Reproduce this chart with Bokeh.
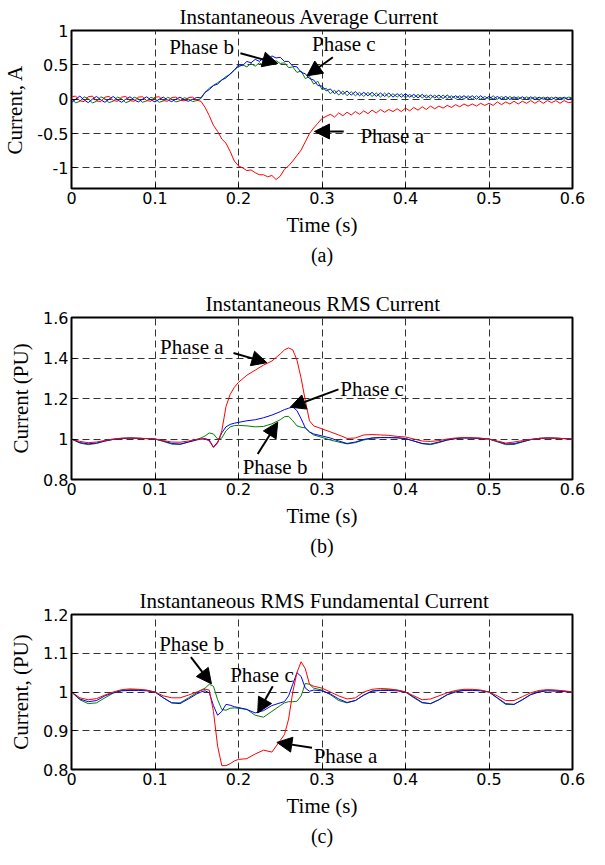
from bokeh.plotting import figure
from bokeh.layouts import column
from bokeh.models import Range1d, FixedTicker, Label, Arrow, NormalHead, Title
from bokeh.embed import file_html
from bokeh.resources import INLINE

# ---------------- data: panel (a) instantaneous average current ----------------
T_A = [round(0.005 * i, 3) for i in range(121)]
A_RED = [0.035, 0.045, -0.025, -0.035, 0.035, 0.045, -0.025, -0.035,
         0.03, 0.04, -0.02, -0.03, 0.03, 0.04, -0.02, -0.03,
         0.03, 0.035, -0.02, -0.03, 0.03, 0.035, -0.02, -0.03,
         0.025, 0.03, -0.015, -0.025, 0.025, 0.03, -0.015,
         -0.03, -0.12, -0.24, -0.38, -0.47, -0.58, -0.64, -0.76, -0.9, -0.97,
         -1.0, -1.04, -1.03, -1.07, -1.1, -1.1, -1.13, -1.11, -1.17, -1.12,
         -1.02, -0.97, -0.9, -0.82, -0.74, -0.62, -0.5, -0.42, -0.35, -0.28,
         -0.25, -0.22, -0.26, -0.2, -0.24, -0.19, -0.23, -0.18, -0.22, -0.17,
         -0.21, -0.16, -0.2, -0.15, -0.19, -0.15, -0.18, -0.14, -0.18, -0.13,
         -0.17, -0.12, -0.16, -0.11, -0.15, -0.1, -0.14, -0.1, -0.13, -0.09,
         -0.12, -0.08, -0.11, -0.07, -0.1, -0.07, -0.1, -0.06, -0.09, -0.06,
         -0.09, -0.04, -0.08, -0.04, -0.07, -0.03, -0.07, -0.03, -0.06, -0.02,
         -0.06, -0.02, -0.06, -0.02, -0.05, -0.02, -0.06, -0.02, -0.05, -0.04]
A_BLUE = [-0.05, 0.0, 0.045, -0.01, -0.05, 0.0, 0.04, -0.01, -0.045, 0.0,
          0.04, -0.01, -0.045, 0.0, 0.035, -0.01, -0.04, 0.0, 0.035, -0.01,
          -0.04, 0.0, 0.03, -0.01, -0.035, 0.0, 0.03, -0.01, -0.03, 0.0, 0.025,
          0.02, 0.1, 0.14, 0.2, 0.22, 0.28, 0.31, 0.37, 0.42, 0.5,
          0.49, 0.55, 0.53, 0.58, 0.55, 0.6, 0.57, 0.63, 0.6, 0.61,
          0.55, 0.55, 0.48, 0.47, 0.39, 0.37, 0.3, 0.28, 0.2, 0.19,
          0.12, 0.15, 0.08, 0.13, 0.07, 0.12, 0.06, 0.11, 0.05, 0.1,
          0.05, 0.1, 0.04, 0.09, 0.04, 0.09, 0.03, 0.08, 0.03, 0.08,
          0.03, 0.07, 0.02, 0.07, 0.02, 0.06, 0.02, 0.06, 0.01, 0.06,
          0.01, 0.05, 0.01, 0.05, 0.01, 0.05, 0.0, 0.05, 0.0, 0.04,
          0.0, 0.04, 0.0, 0.04, -0.005, 0.035, 0.0, 0.035, -0.005, 0.035,
          -0.005, 0.03, 0.0, 0.03, -0.005, 0.03, 0.0, 0.03, -0.005, 0.02]
A_GREEN = [0.01, -0.055, -0.03, 0.035, 0.01, -0.055, -0.03, 0.035, 0.008, -0.05,
           -0.028, 0.03, 0.008, -0.05, -0.028, 0.03, 0.006, -0.045, -0.025, 0.027,
           0.006, -0.045, -0.025, 0.027, 0.005, -0.04, -0.022, 0.022, 0.004, -0.035, -0.02,
           0.01, 0.1, 0.16, 0.2, 0.24, 0.28, 0.33, 0.36, 0.43, 0.47,
           0.5, 0.47, 0.52, 0.48, 0.53, 0.49, 0.54, 0.52, 0.56, 0.52,
           0.53, 0.46, 0.47, 0.39, 0.41, 0.3, 0.33, 0.22, 0.26, 0.14,
           0.16, 0.08, 0.13, 0.06, 0.12, 0.05, 0.11, 0.05, 0.1, 0.04,
           0.1, 0.04, 0.09, 0.03, 0.09, 0.03, 0.08, 0.03, 0.08, 0.02,
           0.07, 0.02, 0.07, 0.02, 0.06, 0.01, 0.06, 0.01, 0.06, 0.01,
           0.05, 0.01, 0.05, 0.0, 0.05, 0.0, 0.05, 0.0, 0.04, 0.0,
           0.05, 0.0, 0.04, -0.005, 0.04, 0.0, 0.035, -0.005, 0.035, 0.0,
           0.035, -0.005, 0.03, 0.0, 0.03, -0.005, 0.03, 0.0, 0.03, 0.02]

# ---------------- shared time base for panels (b) and (c) ----------------
T_BC = [0.0, 0.01, 0.02, 0.03, 0.04, 0.05, 0.06, 0.07, 0.08, 0.09, 0.1, 0.11, 0.12, 0.13, 0.14, 0.15,
        0.155, 0.16, 0.165, 0.17, 0.175, 0.18, 0.185, 0.19, 0.195, 0.2,
        0.21, 0.22, 0.23, 0.24, 0.25,
        0.255, 0.26, 0.265, 0.27, 0.275, 0.28, 0.285, 0.29,
        0.3, 0.31, 0.32, 0.33, 0.34, 0.35, 0.36, 0.37, 0.38, 0.39, 0.4,
        0.41, 0.42, 0.43, 0.44, 0.45, 0.46, 0.47, 0.48, 0.49, 0.5,
        0.51, 0.52, 0.53, 0.54, 0.55, 0.56, 0.57, 0.58, 0.59, 0.6]

# panel (b) instantaneous RMS current
B_RED = [1.0, 0.988, 0.982, 0.985, 0.993, 1.0, 1.004, 1.005, 1.004, 1.002, 1.0, 0.992, 0.985, 0.984, 0.99, 0.998,
         1.0, 1.0, 0.99, 0.958, 0.98, 1.04, 1.16, 1.22, 1.255, 1.28,
         1.315, 1.34, 1.365, 1.385, 1.42,
         1.44, 1.45, 1.44, 1.39, 1.3, 1.19, 1.09, 1.065,
         1.05, 1.035, 1.02, 1.003, 1.005, 1.02, 1.022, 1.02, 1.018, 1.013, 1.01,
         1.0, 0.99, 0.988, 0.992, 1.0, 1.005, 1.007, 1.006, 1.004, 1.0,
         0.99, 0.98, 0.985, 0.992, 0.998, 1.003, 1.005, 1.004, 1.002, 1.0]
B_BLUE = [1.0, 0.982, 0.976, 0.98, 0.99, 0.998, 1.003, 1.004, 1.003, 1.002, 1.0, 0.99, 0.978, 0.975, 0.985, 0.995,
          1.0, 1.002, 0.995, 0.96, 0.985, 1.03, 1.06, 1.072, 1.078, 1.082,
          1.09, 1.095, 1.105, 1.118, 1.135,
          1.145, 1.152, 1.158, 1.14, 1.1, 1.055, 1.035, 1.025,
          1.015, 1.005, 0.99, 0.978, 0.985, 0.998, 1.005, 1.007, 1.007, 1.006, 1.002,
          0.99, 0.978, 0.975, 0.985, 0.995, 1.002, 1.005, 1.004, 1.003, 1.0,
          0.988, 0.976, 0.977, 0.987, 0.997, 1.003, 1.005, 1.004, 1.002, 1.0]
B_GREEN = [1.0, 0.98, 0.972, 0.978, 0.99, 0.998, 1.003, 1.005, 1.004, 1.002, 1.0, 0.988, 0.975, 0.973, 0.985, 0.998,
           1.005, 1.015, 1.03, 1.025, 1.0, 1.005, 1.04, 1.06, 1.066, 1.067,
           1.065, 1.06, 1.062, 1.075, 1.095,
           1.11, 1.112, 1.09, 1.065, 1.058, 1.055, 1.035, 1.02,
           1.008, 0.995, 0.985, 0.976, 0.982, 0.995, 1.004, 1.007, 1.007, 1.006, 1.002,
           0.99, 0.977, 0.972, 0.982, 0.995, 1.002, 1.006, 1.005, 1.003, 1.0,
           0.986, 0.972, 0.973, 0.985, 0.997, 1.003, 1.005, 1.004, 1.002, 1.0]

# panel (c) instantaneous RMS fundamental current
C_RED = [1.0, 0.985, 0.98, 0.983, 0.992, 1.0, 1.006, 1.008, 1.007, 1.005, 1.0, 0.99, 0.985, 0.985, 0.992, 1.0,
         1.004, 1.007, 1.005, 0.95, 0.86, 0.81, 0.81, 0.815, 0.822, 0.826,
         0.828, 0.84, 0.85, 0.845, 0.875,
         0.89, 0.93, 1.0, 1.05, 1.078, 1.06, 1.02, 1.015,
         1.01, 1.0, 0.99, 0.982, 0.985, 1.0, 1.007, 1.009, 1.008, 1.005, 1.0,
         0.99, 0.98, 0.982, 0.99, 0.998, 1.004, 1.007, 1.007, 1.005, 1.0,
         0.99, 0.978, 0.978, 0.988, 0.998, 1.004, 1.006, 1.005, 1.003, 1.0]
C_BLUE = [1.0, 0.982, 0.975, 0.978, 0.99, 0.998, 1.003, 1.004, 1.004, 1.003, 1.0, 0.985, 0.972, 0.97, 0.982, 0.995,
          1.0, 1.003, 0.998, 0.965, 0.94, 0.95, 0.968, 0.966, 0.962, 0.96,
          0.955, 0.946, 0.952, 0.965, 0.972,
          0.975, 0.99, 1.02, 1.05, 1.04, 1.01, 1.002, 1.005,
          1.003, 0.995, 0.982, 0.973, 0.978, 0.992, 1.002, 1.004, 1.004, 1.003, 1.0,
          0.987, 0.973, 0.97, 0.98, 0.993, 1.0, 1.004, 1.004, 1.003, 1.0,
          0.985, 0.97, 0.968, 0.98, 0.993, 1.0, 1.003, 1.002, 1.001, 1.0]
C_GREEN = [1.0, 0.98, 0.97, 0.972, 0.985, 0.997, 1.004, 1.006, 1.006, 1.004, 1.0, 0.985, 0.972, 0.972, 0.985, 0.998,
           1.005, 1.01, 1.02, 1.015, 0.98, 0.955, 0.953, 0.958, 0.959, 0.958,
           0.955, 0.94, 0.935, 0.95, 0.965,
           0.972, 0.975, 0.975, 0.976, 0.99, 1.022, 1.02, 1.01,
           1.005, 0.993, 0.978, 0.972, 0.978, 0.992, 1.003, 1.005, 1.006, 1.005, 1.0,
           0.985, 0.972, 0.97, 0.98, 0.993, 1.002, 1.005, 1.005, 1.004, 1.0,
           0.984, 0.968, 0.968, 0.98, 0.994, 1.002, 1.005, 1.004, 1.002, 1.0]

# ---------------- ticks ----------------
X_TICKS = [0, 0.1, 0.2, 0.3, 0.4, 0.5, 0.6]
X_LABELS = ["0", "0.1", "0.2", "0.3", "0.4", "0.5", "0.6"]
YA_TICKS = [-1, -0.5, 0, 0.5, 1]
YA_LABELS = ["-1", "-0.5", "0", "0.5", "1"]
YB_TICKS = [0.8, 1.0, 1.2, 1.4, 1.6]
YB_LABELS = ["0.8", "1", "1.2", "1.4", "1.6"]
YC_TICKS = [0.8, 0.9, 1.0, 1.1, 1.2]
YC_LABELS = ["0.8", "0.9", "1", "1.1", "1.2"]

SERIF = "Liberation Serif"
SANS = "DejaVu Sans"
RED, BLUE, GREEN = "#ff0000", "#0000ff", "#008000"
FIG_W = 589


def make_fig(bl, br, bt, fh, bb, yr, yticks, ylabels, ylab, title, title_off, caption):
    p = figure(width=FIG_W, height=bt + fh + bb, x_range=Range1d(0, 0.6), y_range=Range1d(*yr),
               output_backend="svg", toolbar_location=None,
               min_border_left=bl, min_border_right=br, min_border_top=bt, min_border_bottom=bb)
    p.title.text = title
    p.title.text_font = SERIF
    p.title.text_font_size = "21px"
    p.title.text_font_style = "normal"
    p.title.text_color = "black"
    p.title.align = "left"
    p.title.offset = title_off
    p.title.standoff = 4
    p.outline_line_color = "black"
    p.outline_line_width = 2
    p.background_fill_color = "white"
    p.border_fill_color = "white"
    for ax, ticks, labels in ((p.xaxis[0], X_TICKS, X_LABELS), (p.yaxis[0], yticks, ylabels)):
        ax.ticker = FixedTicker(ticks=ticks)
        ax.major_label_overrides = {t: l for t, l in zip(ticks, labels)}
        ax.major_label_text_font = SANS
        ax.major_label_text_font_size = "16px"
        ax.major_label_text_color = "black"
        ax.axis_line_color = None
        ax.major_tick_in = 5
        ax.major_tick_out = 0
        ax.major_tick_line_color = "black"
        ax.minor_tick_line_color = None
        ax.axis_label_text_font = SERIF
        ax.axis_label_text_font_size = "21px"
        ax.axis_label_text_font_style = "normal"
        ax.axis_label_text_color = "black"
        ax.major_label_standoff = 3
    p.xaxis.axis_label = "Time (s)"
    p.xaxis.axis_label_standoff = 6
    p.yaxis.axis_label = ylab
    p.yaxis.axis_label_standoff = 7
    for g in (p.xgrid[0], p.ygrid[0]):
        g.grid_line_color = "#333333"
        g.grid_line_dash = "7 4"
        g.grid_line_width = 1
    cap = Title(text=caption, align="center", text_font=SERIF, text_font_size="20px",
                text_font_style="normal", text_color="black", standoff=4)
    p.add_layout(cap, "below")
    return p


def note(p, text, tx, ty, xs, ys, xe, ye):
    p.add_layout(Label(x=tx, y=ty, text=text, text_font=SERIF, text_font_size="21px",
                       text_baseline="middle", text_align="left", text_color="black"))
    p.add_layout(Arrow(x_start=xs, y_start=ys, x_end=xe, y_end=ye, line_width=2, line_color="black",
                       end=NormalHead(size=15, fill_color="black", line_color="black")))


# panel (a)
pa = make_fig(61, 12, 25, 163, 87, (-1.3, 1.0), YA_TICKS, YA_LABELS, "Current, A",
              "Instantaneous Average Current", 108, "(a)")
pa.line(T_A, A_GREEN, color=GREEN, line_width=1)
pa.line(T_A, A_BLUE, color=BLUE, line_width=1)
pa.line(T_A, A_RED, color=RED, line_width=1)
note(pa, "Phase b", 0.117, 0.755, 0.2023, 0.67, 0.247, 0.52)
note(pa, "Phase c", 0.288, 0.80, 0.313, 0.61, 0.282, 0.34)
note(pa, "Phase a", 0.346, -0.54, 0.326, -0.47, 0.291, -0.47)

# panel (b)
pb = make_fig(57, 16, 42, 162, 90, (0.8, 1.6), YB_TICKS, YB_LABELS, "Current (PU)",
              "Instantaneous RMS Current", 134, "(b)")
pb.line(T_BC, B_GREEN, color=GREEN, line_width=1)
pb.line(T_BC, B_BLUE, color=BLUE, line_width=1)
pb.line(T_BC, B_RED, color=RED, line_width=1)
note(pb, "Phase a", 0.106, 1.455, 0.194, 1.425, 0.234, 1.377)
note(pb, "Phase c", 0.322, 1.248, 0.3197, 1.245, 0.262, 1.157)
note(pb, "Phase b", 0.205, 0.86, 0.223, 0.926, 0.247, 1.083)

# panel (c)
pc = make_fig(54, 17, 45, 160, 74, (0.8, 1.2), YC_TICKS, YC_LABELS, "Current, (PU)",
              "Instantaneous RMS Fundamental Current", 68, "(c)")
pc.line(T_BC, C_GREEN, color=GREEN, line_width=1)
pc.line(T_BC, C_BLUE, color=BLUE, line_width=1)
pc.line(T_BC, C_RED, color=RED, line_width=1)
note(pc, "Phase b", 0.105, 1.123, 0.143, 1.09, 0.1676, 1.021)
note(pc, "Phase c", 0.19, 1.044, 0.241, 1.015, 0.223, 0.946)
note(pc, "Phase a", 0.29, 0.835, 0.288, 0.856, 0.246, 0.87)

layout = column(pa, pb, pc, spacing=0)
open("out.html", "w").write(file_html(layout, INLINE))
